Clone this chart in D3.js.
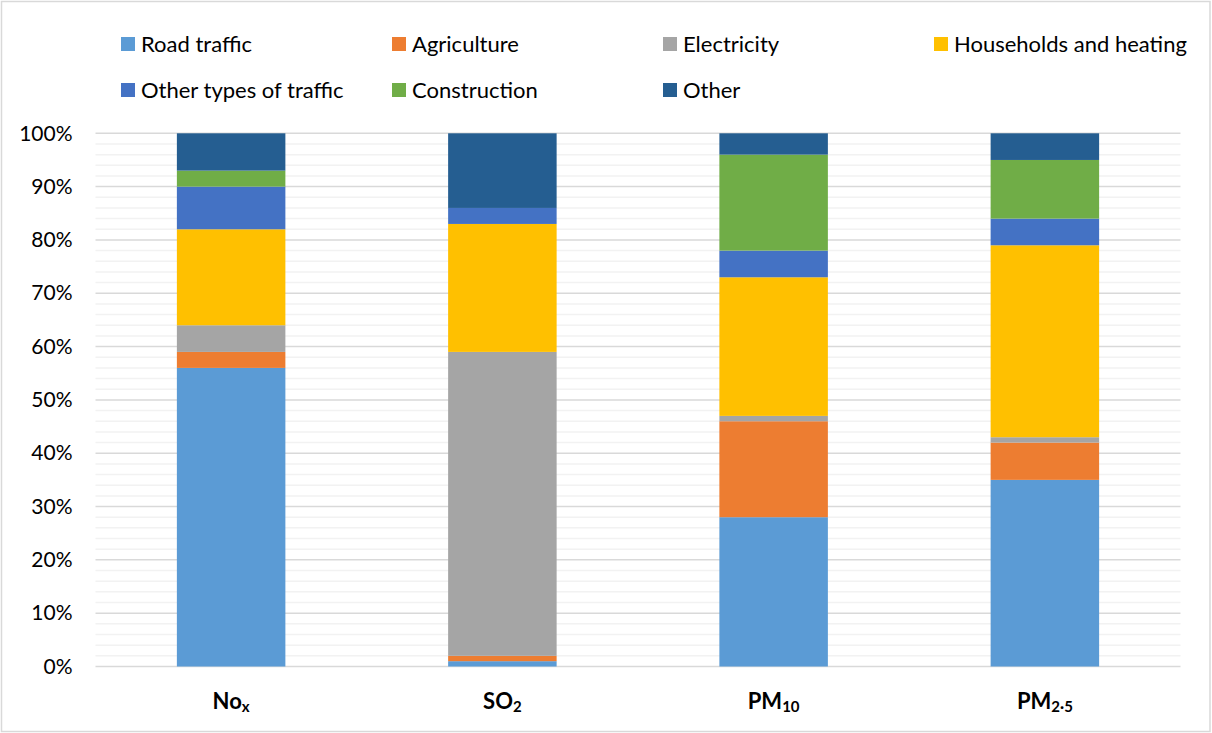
<!DOCTYPE html>
<html>
<head>
<meta charset="utf-8">
<script src="https://cdn.jsdelivr.net/npm/d3@7"></script>
<style>
  html, body { margin: 0; padding: 0; background: #fff; }
  svg { display: block; font-family: Lato, "Open Sans", sans-serif; }
</style>
</head>
<body>
<svg id="chart" width="1212" height="733"></svg>
<script>
// Pollutants on the x axis
const categories = ["NOx", "SO2", "PM10", "PM2.5"];

// Emission sources, stacked bottom to top (share of total, %)
const sources = ["Road traffic", "Agriculture", "Electricity", "Households and heating",
                 "Other types of traffic", "Construction", "Other"];
const roadTraffic      = [56,  1, 28, 35];
const agriculture      = [ 3,  1, 18,  7];
const electricity      = [ 5, 57,  1,  1];
const households       = [18, 24, 26, 36];
const otherTraffic     = [ 8,  3,  5,  5];
const construction     = [ 3,  0, 18, 11];
const other            = [ 7, 14,  4,  5];

const yTicks = [0, 10, 20, 30, 40, 50, 60, 70, 80, 90, 100];

const colors = ["#5b9bd5", "#ed7d31", "#a5a5a5", "#ffc000", "#4472c4", "#70ad47", "#255e91"];

const seriesValues = [roadTraffic, agriculture, electricity, households, otherTraffic, construction, other];

const rows = categories.map((c, i) => {
  const r = { cat: c };
  sources.forEach((s, k) => { r[s] = seriesValues[k][i]; });
  return r;
});

const svg = d3.select("#chart");
const W = 1212, H = 733;
const plot = { left: 95.5, right: 1180.5, top: 133.3, bottom: 666.5 };

// outer chart frame
svg.append("rect")
  .attr("x", 1.5).attr("y", 1.5).attr("width", W - 3.5).attr("height", H - 3)
  .attr("fill", "#fff").attr("stroke", "#d9d9d9").attr("stroke-width", 1.5);

const x = d3.scaleBand().domain(categories).range([plot.left, plot.right]).paddingInner(0.6).paddingOuter(0.3);
const y = d3.scaleLinear().domain([0, 100]).range([plot.bottom, plot.top]);

// minor gridlines every 2%
const minor = d3.range(2, 100, 2).filter(v => v % 10 !== 0);
svg.append("g").selectAll("line").data(minor).join("line")
  .attr("x1", plot.left).attr("x2", plot.right)
  .attr("y1", d => y(d)).attr("y2", d => y(d))
  .attr("stroke", "#f2f2f2").attr("stroke-width", 1.5);

// major gridlines
svg.append("g").selectAll("line").data(yTicks).join("line")
  .attr("x1", plot.left).attr("x2", plot.right)
  .attr("y1", d => y(d)).attr("y2", d => y(d))
  .attr("stroke", "#d9d9d9").attr("stroke-width", 1.5);

// y axis labels
const yAxis = d3.axisLeft(y).tickValues(yTicks).tickFormat(d => d + "%").tickSize(0).tickPadding(23);
const yg = svg.append("g").attr("transform", `translate(${plot.left},0)`).call(yAxis);
yg.select(".domain").remove();
yg.selectAll("text").attr("font-size", 21).attr("fill", "#000").attr("font-family", "Lato, 'Open Sans', sans-serif");

// stacked bars
const stack = d3.stack().keys(sources)(rows);
svg.append("g").selectAll("g").data(stack).join("g")
  .attr("fill", (d, i) => colors[i])
  .selectAll("rect").data(d => d).join("rect")
  .attr("x", d => x(d.data.cat))
  .attr("width", x.bandwidth())
  .attr("y", d => y(d[1]))
  .attr("height", d => y(d[0]) - y(d[1]));

// x axis category labels with subscripts
const labelParts = {
  "NOx":   [["No", false], ["x", true]],
  "SO2":   [["SO", false], ["2", true]],
  "PM10":  [["PM", false], ["10", true]],
  "PM2.5": [["PM", false], ["2\u00b75", true]]
};
const xl = svg.append("g").selectAll("text").data(categories).join("text")
  .attr("x", d => x(d) + x.bandwidth() / 2)
  .attr("y", 709)
  .attr("text-anchor", "middle")
  .attr("font-weight", "bold")
  .attr("font-size", 22)
  .attr("fill", "#000");
xl.each(function(d) {
  const t = d3.select(this);
  labelParts[d].forEach(([txt, sub]) => {
    const ts = t.append("tspan").text(txt);
    if (sub) ts.attr("font-size", 15).attr("dy", 3);
  });
});

// legend: four columns aligned to the category spacing, two rows
const legendCols = [121, 392, 663, 934];
const legendRows = [44, 90];
const lg = svg.append("g").selectAll("g").data(sources).join("g")
  .attr("transform", (d, i) => `translate(${legendCols[i % 4]},${legendRows[Math.floor(i / 4)]})`);
lg.append("rect").attr("x", 0).attr("y", -7).attr("width", 14).attr("height", 14)
  .attr("fill", (d, i) => colors[i]);
lg.append("text").attr("x", 20).attr("y", 0).attr("dy", "0.35em")
  .attr("font-size", 22).attr("fill", "#000").text(d => d);
</script>
</body>
</html>
